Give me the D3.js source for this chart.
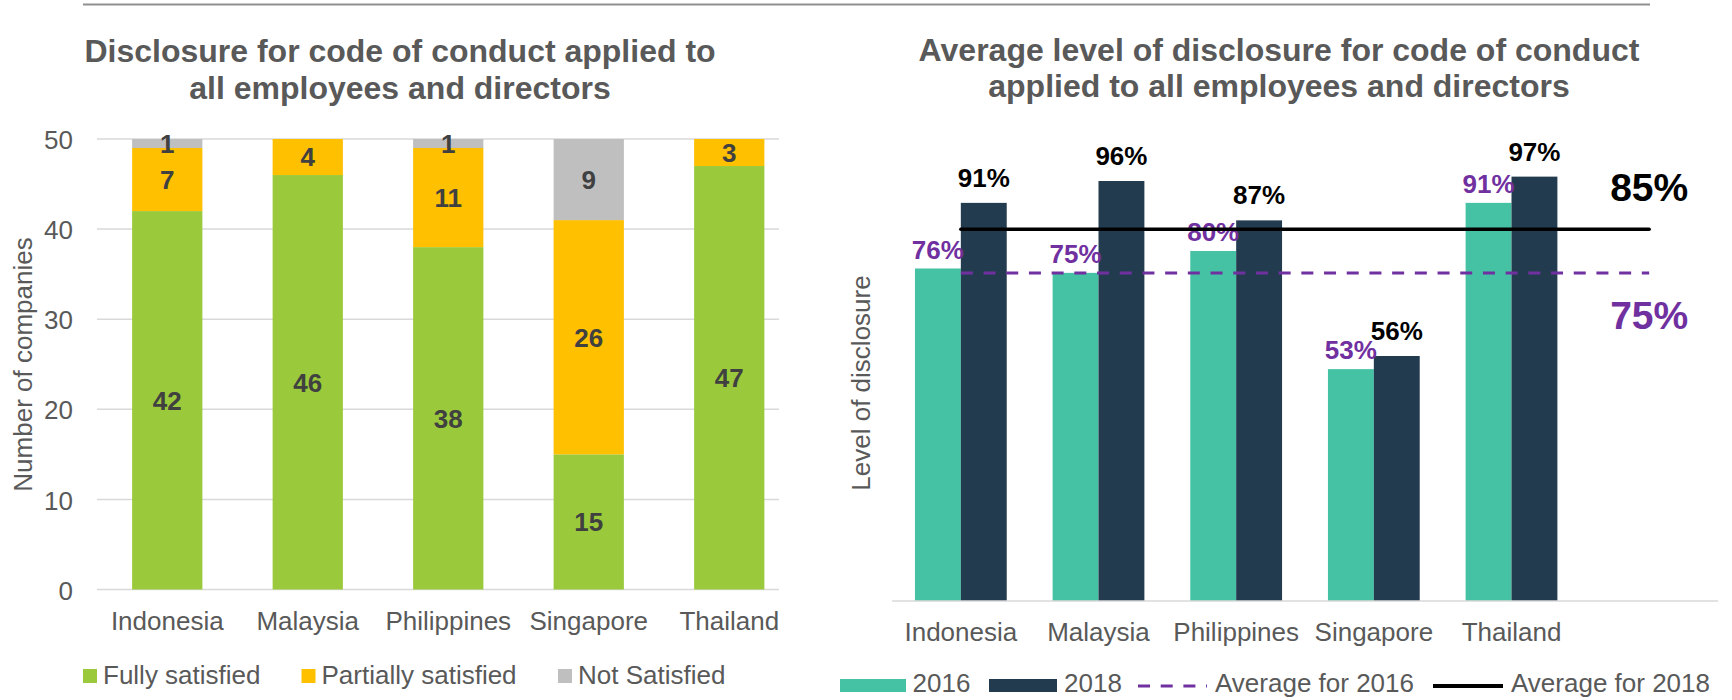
<!DOCTYPE html>
<html>
<head>
<meta charset="utf-8">
<script src="https://cdn.jsdelivr.net/npm/d3@7/dist/d3.min.js"></script>
<style>
  html, body { margin: 0; padding: 0; background: #fff; }
  svg { display: block; font-family: "Liberation Sans", Arial, sans-serif; }
</style>
</head>
<body>
<svg id="chart" width="1732" height="700"></svg>
<script>
// ---------- Data ----------
const countries = ["Indonesia", "Malaysia", "Philippines", "Singapore", "Thailand"];
const fullySatisfied = [42, 46, 38, 15, 47];
const partiallySatisfied = [7, 4, 11, 26, 3];
const notSatisfied = [1, 0, 1, 9, 0];
const leftSeriesNames = ["Fully satisfied", "Partially satisfied", "Not Satisfied"];
const leftTicks = [0, 10, 20, 30, 40, 50];

const rightCategories = ["Indonesia", "Malaysia", "Philippines", "Singapore", "Thailand", ""];
const years = ["2016", "2018"];
const disclosure2016 = [76, 75, 80, 53, 91];
const disclosure2018 = [91, 96, 87, 56, 97];
const average2016 = [75, 75, 75, 75, 75, 75];
const average2018 = [85, 85, 85, 85, 85, 85];
const rightLegendNames = ["2016", "2018", "Average for 2016", "Average for 2018"];

// ---------- Styles ----------
const FONT = 26;
const grey = "#595959";
const colLeft = ["#9ACA3C", "#FFC000", "#BFBFBF"];
const col2016 = "#45C2A4";
const col2018 = "#223B4F";
const purple = "#7030A0";

const svg = d3.select("#chart");

// top rule
svg.append("line").attr("x1", 83).attr("x2", 1650).attr("y1", 4.5).attr("y2", 4.5)
  .attr("stroke", "#8F8F8F").attr("stroke-width", 2);

// ---------- Left chart ----------
const L = svg.append("g");
L.append("text").attr("x", 400).attr("y", 62).attr("text-anchor", "middle")
  .attr("font-size", 32).attr("font-weight", "bold").attr("fill", grey)
  .text("Disclosure for code of conduct applied to");
L.append("text").attr("x", 400).attr("y", 98.5).attr("text-anchor", "middle")
  .attr("font-size", 32).attr("font-weight", "bold").attr("fill", grey)
  .text("all employees and directors");

const yL = d3.scaleLinear().domain([0, 50]).range([589.5, 139]);
const xL = d3.scaleBand().domain(countries).range([97, 799.5]).paddingInner(0.5).paddingOuter(0.25);

// gridlines
L.append("g").selectAll("line").data(leftTicks).join("line")
  .attr("x1", 97).attr("x2", 779)
  .attr("y1", d => yL(d)).attr("y2", d => yL(d))
  .attr("stroke", "#D9D9D9").attr("stroke-width", 1.5);

const leftRows = countries.map((c, i) => ({
  country: c,
  "Fully satisfied": fullySatisfied[i],
  "Partially satisfied": partiallySatisfied[i],
  "Not Satisfied": notSatisfied[i]
}));
const stacked = d3.stack().keys(leftSeriesNames)(leftRows);

const layers = L.append("g").selectAll("g").data(stacked).join("g")
  .attr("fill", (d, i) => colLeft[i]);
layers.selectAll("rect").data(d => d).join("rect")
  .attr("x", d => xL(d.data.country))
  .attr("width", xL.bandwidth())
  .attr("y", d => yL(d[1]))
  .attr("height", d => yL(d[0]) - yL(d[1]));

// segment labels
const segLabels = [];
stacked.forEach(layer => layer.forEach(d => {
  const v = d[1] - d[0];
  if (v > 0) segLabels.push({ country: d.data.country, v, mid: (d[0] + d[1]) / 2 });
}));
L.append("g").selectAll("text").data(segLabels).join("text")
  .attr("x", d => xL(d.country) + xL.bandwidth() / 2)
  .attr("y", d => yL(d.mid))
  .attr("dy", "0.36em")
  .attr("text-anchor", "middle")
  .attr("font-size", FONT).attr("font-weight", "bold").attr("fill", "#404040")
  .text(d => d.v);

// axes
const yAxisL = L.append("g").attr("transform", "translate(97,0)")
  .call(d3.axisLeft(yL).tickValues(leftTicks).tickSize(0).tickPadding(24));
yAxisL.select(".domain").remove();
yAxisL.selectAll("text").attr("font-size", FONT).attr("fill", grey)
  .attr("font-family", "Liberation Sans, Arial, sans-serif").attr("dy", "0.37em");

const xAxisL = L.append("g").attr("transform", "translate(0,589.5)")
  .call(d3.axisBottom(xL).tickSize(0).tickPadding(22));
xAxisL.select(".domain").remove();
xAxisL.selectAll("text").attr("font-size", FONT).attr("fill", grey)
  .attr("font-family", "Liberation Sans, Arial, sans-serif");

L.append("text").attr("transform", "translate(31.5,364.5) rotate(-90)")
  .attr("text-anchor", "middle").attr("font-size", FONT).attr("fill", grey)
  .text("Number of companies");

// left legend
const legL = [{ x: 83 }, { x: 301.5 }, { x: 558 }];
leftSeriesNames.forEach((name, i) => {
  L.append("rect").attr("x", legL[i].x).attr("y", 669).attr("width", 14).attr("height", 14)
    .attr("fill", colLeft[i]);
  L.append("text").attr("x", legL[i].x + 20).attr("y", 684)
    .attr("font-size", FONT).attr("fill", grey).text(name);
});

// ---------- Right chart ----------
const R = svg.append("g");
R.append("text").attr("x", 1279).attr("y", 60.5).attr("text-anchor", "middle")
  .attr("font-size", 32).attr("font-weight", "bold").attr("fill", grey)
  .text("Average level of disclosure for code of conduct");
R.append("text").attr("x", 1279).attr("y", 97).attr("text-anchor", "middle")
  .attr("font-size", 32).attr("font-weight", "bold").attr("fill", grey)
  .text("applied to all employees and directors");

const yR = d3.scaleLinear().domain([0, 100]).range([601, 163.5]);
const xR = d3.scaleBand().domain(rightCategories).range([892, 1718]).paddingInner(1 / 3).paddingOuter(1 / 6);
const xSub = d3.scaleBand().domain(years).range([0, xR.bandwidth()]);

const rightRows = countries.map((c, i) => ({ country: c, values: [disclosure2016[i], disclosure2018[i]] }));

const groups = R.append("g").selectAll("g").data(rightRows).join("g")
  .attr("transform", d => `translate(${xR(d.country)},0)`);
groups.selectAll("rect").data(d => d.values.map((v, j) => ({ year: years[j], v }))).join("rect")
  .attr("x", d => xSub(d.year))
  .attr("width", xSub.bandwidth())
  .attr("y", d => yR(d.v))
  .attr("height", d => yR(0) - yR(d.v))
  .attr("fill", d => d.year === "2016" ? col2016 : col2018);

// baseline
R.append("line").attr("x1", 892).attr("x2", 1718).attr("y1", 601).attr("y2", 601)
  .attr("stroke", "#D9D9D9").attr("stroke-width", 1.5);

// average lines
const cx = c => xR(c) + xR.bandwidth() / 2;
const lineGen = d3.line().x(d => cx(d.c)).y(d => yR(d.v));
R.append("path").datum(rightCategories.map((c, i) => ({ c, v: average2016[i] })))
  .attr("d", lineGen).attr("fill", "none").attr("stroke", purple)
  .attr("stroke-width", 3).attr("stroke-dasharray", "12 10.7");
R.append("path").datum(rightCategories.map((c, i) => ({ c, v: average2018[i] })))
  .attr("d", lineGen).attr("fill", "none").attr("stroke", "#000")
  .attr("stroke-width", 3.5).attr("stroke-linecap", "round");

// bar labels
groups.selectAll("text").data(d => d.values.map((v, j) => ({ year: years[j], v }))).join("text")
  .attr("x", d => xSub(d.year) + xSub.bandwidth() / 2)
  .attr("y", d => yR(d.v) - (d.year === "2016" ? 10 : 16))
  .attr("text-anchor", "middle")
  .attr("font-size", FONT).attr("font-weight", "bold")
  .attr("fill", d => d.year === "2016" ? purple : "#000")
  .text(d => d.v + "%");

// average end labels
const lastCat = rightCategories[rightCategories.length - 1];
R.append("text").attr("x", cx(lastCat)).attr("y", yR(average2018[5]) - 28)
  .attr("text-anchor", "middle").attr("font-size", 39).attr("font-weight", "bold")
  .attr("fill", "#000").text(average2018[5] + "%");
R.append("text").attr("x", cx(lastCat)).attr("y", yR(average2016[5]) + 56)
  .attr("text-anchor", "middle").attr("font-size", 39).attr("font-weight", "bold")
  .attr("fill", purple).text(average2016[5] + "%");

// axes
const xAxisR = R.append("g").attr("transform", "translate(0,601)")
  .call(d3.axisBottom(xR).tickSize(0).tickPadding(22));
xAxisR.select(".domain").remove();
xAxisR.selectAll("text").attr("font-size", FONT).attr("fill", grey)
  .attr("font-family", "Liberation Sans, Arial, sans-serif");

R.append("text").attr("transform", "translate(870,383) rotate(-90)")
  .attr("text-anchor", "middle").attr("font-size", FONT).attr("fill", grey)
  .text("Level of disclosure");

// right legend
const lg = R.append("g");
lg.append("rect").attr("x", 840).attr("y", 679).attr("width", 66).attr("height", 13).attr("fill", col2016);
lg.append("text").attr("x", 912.5).attr("y", 692).attr("font-size", FONT).attr("fill", grey).text(rightLegendNames[0]);
lg.append("rect").attr("x", 989).attr("y", 679).attr("width", 68).attr("height", 13).attr("fill", col2018);
lg.append("text").attr("x", 1064).attr("y", 692).attr("font-size", FONT).attr("fill", grey).text(rightLegendNames[1]);
lg.append("line").attr("x1", 1138).attr("x2", 1207).attr("y1", 686).attr("y2", 686)
  .attr("stroke", purple).attr("stroke-width", 3).attr("stroke-dasharray", "12 10.7");
lg.append("text").attr("x", 1215).attr("y", 692).attr("font-size", FONT).attr("fill", grey).text(rightLegendNames[2]);
lg.append("line").attr("x1", 1433).attr("x2", 1503).attr("y1", 686).attr("y2", 686)
  .attr("stroke", "#000").attr("stroke-width", 4);
lg.append("text").attr("x", 1511).attr("y", 692).attr("font-size", FONT).attr("fill", grey).text(rightLegendNames[3]);
</script>
</body>
</html>
